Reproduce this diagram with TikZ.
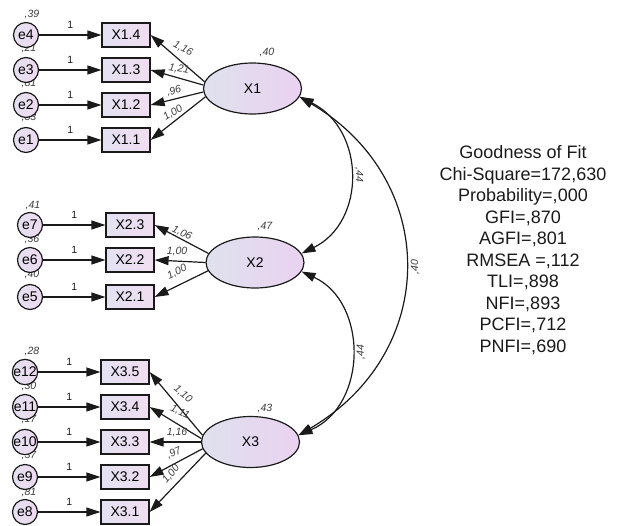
\documentclass[tikz,border=0pt]{standalone}
\usepackage{fontspec}
\setmainfont{Liberation Sans}
\usetikzlibrary{shapes.geometric,arrows.meta}
\definecolor{latL}{HTML}{DFE1EE}
\definecolor{latR}{HTML}{EAD2F0}
\definecolor{boxL}{HTML}{E3E1F2}
\definecolor{boxR}{HTML}{F0DDF0}
\definecolor{errL}{HTML}{E4E0F0}
\definecolor{errR}{HTML}{EEDAF0}
\definecolor{ink}{HTML}{1A1A1A}
\begin{document}
\begin{tikzpicture}[x=1pt,y=-1pt,
  ind/.style={draw=ink, line width=1.2pt, minimum width=48pt, minimum height=24pt,
    inner sep=0pt, left color=boxL, right color=boxR, font=\fontsize{14}{14}\selectfont},
  err/.style={circle, draw=ink, line width=1.2pt, minimum size=25pt, inner sep=0pt,
    left color=errL, right color=errR, font=\fontsize{14}{14}\selectfont},
  lat/.style={ellipse, draw=ink, line width=1.2pt, minimum width=98pt, minimum height=51pt,
    inner sep=0pt, left color=latL, right color=latR, font=\fontsize{14}{14}\selectfont},
  reg/.style={-{Triangle[length=14pt,width=9pt]}, line width=1.2pt, draw=ink},
  cov/.style={{Triangle[length=14pt,width=9pt]}-{Triangle[length=14pt,width=9pt]},
    line width=1.2pt, draw=ink},
  est/.style={font=\fontsize{10.5}{11}\selectfont\itshape, text=ink!85, inner sep=0pt},
  one/.style={font=\fontsize{10.5}{11}\selectfont, text=ink, inner sep=0pt},
]
\useasboundingbox (0,0) rectangle (626,525);

% ---------- error variances (drawn first, circles sit on top) ----------
\node[est] (v4)  at (32,15)  {,39};
\node[est] (v3)  at (29,49)  {,21};
\node[est] (v2)  at (29,84)  {,81};
\node[est] (v1)  at (29,118) {,83};
\node[est] (v7)  at (33,206) {,41};
\node[est] (v6)  at (32,240) {,36};
\node[est] (v5)  at (32,275) {,40};
\node[est] (v12) at (32,351) {,28};
\node[est] (v11) at (29,386) {,30};
\node[est] (v10) at (29,420) {,17};
\node[est] (v9)  at (29,455) {,37};
\node[est] (v8)  at (29,492) {,81};

% ---------- latent factors ----------
\node[lat] (X1) at (252.5,88.5) {X1};
\node[lat] (X2) at (255,262.5) {X2};
\node[lat] (X3) at (250.5,442) {X3};
\node[est] (vX1) at (267,53)  {,40};
\node[est] (vX2) at (265,227) {,47};
\node[est] (vX3) at (265,408) {,43};

% ---------- indicators of X1 ----------
\foreach \i/\y in {4/35,3/70,2/105,1/140}{
  \node[ind] (X1\i) at (126,\y) {X1.\i};
  \node[err] (e\i) at (26,\y) {e\i};
  \draw[reg] (e\i) -- node[one, above=5.5pt] (w\i) {1} (X1\i);
}
\draw[reg] (X1.172) -- (X14.east);
\draw[reg] (X1.176) -- (X13.east);
\draw[reg] (X1.184) -- (X12.east);
\draw[reg] (X1.190) -- (X11.east);
\node[est, rotate=-28] (l14) at (183,49)  {1,16};
\node[est, rotate=-10] (l13) at (179,69)  {1,21};
\node[est, rotate=16]  (l12) at (174,91)  {,96};
\node[est, rotate=32]  (l11) at (173,113) {1,00};

% ---------- indicators of X2 ----------
\foreach \i/\j/\y in {3/7/225,2/6/260,1/5/297}{
  \node[ind] (X2\i) at (130,\y) {X2.\i};
  \node[err] (e\j) at (30,\y) {e\j};
  \draw[reg] (e\j) -- node[one, above=5.5pt] (w\j) {1} (X2\i);
}
\draw[reg] (X2.169) -- (X23.east);
\draw[reg] (X2.180) -- (X22.east);
\draw[reg] (X2.190) -- (X21.east);
\node[est, rotate=-25] (l23) at (182,233) {1,06};
\node[est]             (l22) at (177,252) {1,00};
\node[est, rotate=25]  (l21) at (177,272) {1,00};

% ---------- indicators of X3 ----------
\foreach \i/\j/\y in {5/12/372,4/11/407,3/10/442,2/9/477,1/8/512}{
  \node[ind] (X3\i) at (125,\y) {X3.\i};
  \node[err] (e\j) at (25,\y) {e\j};
  \draw[reg] (e\j) -- node[one, above=5.5pt] (w\j) {1} (X3\i);
}
\draw[reg] (X3.172) -- (X35.east);
\draw[reg] (X3.176) -- (X34.east);
\draw[reg] (X3.180) -- (X33.east);
\draw[reg] (X3.188) -- (X32.east);
\draw[reg] (X3.194) -- (X31.east);
\node[est, rotate=-40] (l35) at (183,394) {1,10};
\node[est, rotate=-25] (l34) at (180,412) {1,11};
\node[est]             (l33) at (177,432) {1,16};
\node[est, rotate=25]  (l32) at (174,453) {,97};
\node[est, rotate=50]  (l31) at (171,474) {1,00};

% ---------- factor covariances ----------
\draw[cov] (X1.-10) .. controls (366,130) and (366,222) .. (X2.11);
\draw[cov] (X2.-11) .. controls (368,302) and (368,405) .. (X3.8);
\draw[cov] (X1.-10) .. controls (440,180) and (440,352) .. (X3.8);
\node[est, rotate=-90] (c12) at (359,175) {,44};
\node[est, rotate=90]  (c23) at (361,352) {,44};
\node[est, rotate=90]  (c13) at (415,267) {,40};

% ---------- fit summary ----------
\node[align=center, font=\fontsize{18}{21.5}\selectfont, text=ink, inner sep=0pt] (fit) at (523,250)
  {Goodness of Fit\\Chi-Square=172,630\\Probability=,000\\GFI=,870\\AGFI=,801\\
   RMSEA =,112\\TLI=,898\\NFI=,893\\PCFI=,712\\PNFI=,690};
\end{tikzpicture}
\end{document}
